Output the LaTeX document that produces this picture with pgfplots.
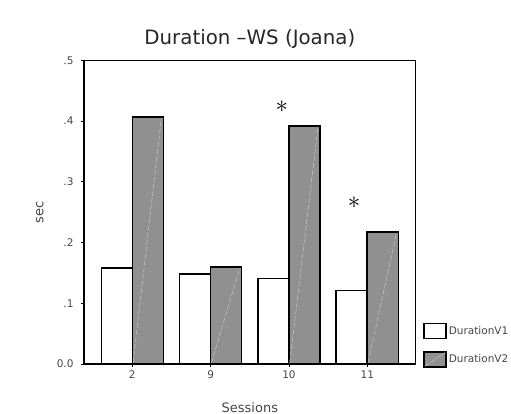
\documentclass[border=0pt]{standalone}
\usepackage{fontspec}
\setmainfont{DejaVu Sans}
\usepackage{pgfplots}
\pgfplotsset{compat=1.18}

\definecolor{barGray}{RGB}{144,144,144}
\definecolor{streakGray}{RGB}{192,192,192}
\definecolor{labelGray}{RGB}{70,70,70}

\tikzset{
  streakline/.style={streakGray, line width=0.6pt, dash pattern=on 5pt off 2pt}
}
\pgfplotsset{
  boxlegend/.style={legend image code/.code={
    \draw[##1] (0pt,-7.5pt) rectangle (22pt,7.5pt);}},
  streaklegend/.style={legend image code/.code={
    \draw[##1] (0pt,-7.5pt) rectangle (22pt,7.5pt);
    \draw[streakline] (0.8pt,-6.8pt) -- (21.2pt,6.8pt);}}
}

\begin{document}
\begin{tikzpicture}
\begin{axis}[
  name=main,
  scale only axis,
  width=331.7pt, height=303.7pt,
  xmin=-0.617, xmax=3.618,
  ymin=0, ymax=0.5,
  xtick={0,1,2,3},
  xticklabels={2,9,10,11},
  ytick={0,0.1,0.2,0.3,0.4,0.5},
  yticklabels={0.0,.1,.2,.3,.4,.5},
  /pgf/number format/assume math mode=true,
  tick pos=left,
  tick align=outside,
  major tick length=3pt,
  tick style={black, line width=0.8pt},
  axis line style={black, line width=1.5pt},
  ticklabel style={font=\fontsize{10.5}{12}\selectfont, text=labelGray},
  yticklabel style={xshift=-4pt},
  title={Duration --WS (Joana)},
  title style={font=\fontsize{19.8}{22}\selectfont, text=black!85,
    at={(axis description cs:0.5,1.033)}, anchor=base},
  xlabel={Sessions},
  xlabel style={font=\fontsize{13}{15}\selectfont, text=labelGray,
    at={(axis description cs:0.5,-0.159)}, anchor=base},
  ylabel={sec},
  ylabel style={font=\fontsize{13}{15}\selectfont, text=labelGray,
    at={(axis description cs:-0.133,0.5)}, anchor=center},
  legend style={at={(axis description cs:1.022,-0.013)}, anchor=south west,
    draw=none, fill=none, inner sep=0pt, row sep=12pt,
    font=\fontsize{10.5}{12}\selectfont, text=labelGray},
  legend cell align=left,
]
% DurationV1
\addplot[ybar, bar width=0.396, bar shift=-0.198, draw=black, line width=1.6pt,
  fill=white, boxlegend]
  coordinates {(0,0.158) (1,0.148) (2,0.141) (3,0.121)};
\addlegendentry{DurationV1}
% DurationV2
\addplot[ybar, bar width=0.396, bar shift=0.198, draw=black, line width=1.6pt,
  fill=barGray, streaklegend]
  coordinates {(0,0.407) (1,0.160) (2,0.392) (3,0.217)};
\addlegendentry{DurationV2}
% faint diagonal streak inside each V2 bar
\addplot[streakline, forget plot] coordinates {(0.01,0.002) (0.37,0.404)};
\addplot[streakline, forget plot] coordinates {(1.01,0.002) (1.37,0.157)};
\addplot[streakline, forget plot] coordinates {(2.01,0.002) (2.37,0.389)};
\addplot[streakline, forget plot] coordinates {(3.01,0.002) (3.37,0.214)};
% significance marks
\node[font=\fontsize{23}{23}\selectfont] at (axis cs:1.908,0.424) {$\ast$};
\node[font=\fontsize{23}{23}\selectfont] at (axis cs:2.83,0.266) {$\ast$};
\end{axis}
\pgfresetboundingbox
\path[use as bounding box] ([shift={(-84pt,-50pt)}]main.south west)
  rectangle ([shift={(95.3pt,60.3pt)}]main.north east);
\end{tikzpicture}
\end{document}
